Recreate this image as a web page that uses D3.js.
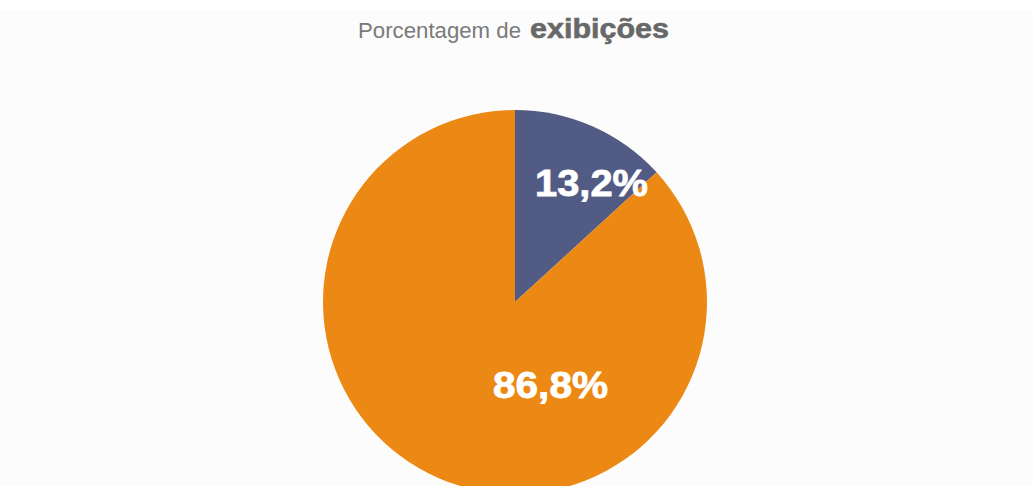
<!DOCTYPE html>
<html><head><meta charset="utf-8">
<script src="https://cdn.jsdelivr.net/npm/d3@7"></script>
<style>
html,body{margin:0;padding:0;background:#fcfcfc;}
svg{display:block;}
</style></head>
<body>
<script>
const categories = ["Outros", "Exibições"];
const values = [13.2, 86.8];
const labels = ["13,2%", "86,8%"];
const colors = ["#525b84", "#ec8914"];

const W = 1033, H = 486;
const svg = d3.select("body").append("svg").attr("width", W).attr("height", H);
svg.append("rect").attr("width", W).attr("height", 10).attr("fill", "#ffffff");

const font = "Liberation Sans, Arial, sans-serif";
svg.append("text").attr("x", 358).attr("y", 38)
  .attr("font-family", font).attr("font-size", 22).attr("fill", "#7a7a7a")
  .attr("textLength", 163).attr("lengthAdjust", "spacingAndGlyphs")
  .text("Porcentagem de");
svg.append("text").attr("x", 530).attr("y", 38)
  .attr("font-family", font).attr("font-size", 27).attr("font-weight", "bold").attr("fill", "#686868")
  .attr("stroke", "#686868").attr("stroke-width", 0.6)
  .attr("textLength", 139).attr("lengthAdjust", "spacingAndGlyphs")
  .text("exibições");

const cx = 515, cy = 302, r = 192;
const g = svg.append("g").attr("transform", `translate(${cx},${cy})`);
const pie = d3.pie().sort(null).value(d => d)(values);
const arc = d3.arc().innerRadius(0).outerRadius(r);
g.selectAll("path").data(pie).join("path")
  .attr("d", arc).attr("fill", (d, i) => colors[i]);

const labelPos = [[20, -106], [-22, 96]];
const labelW = [113, 115];
g.selectAll("text.lbl").data(pie).join("text").attr("class", "lbl")
  .attr("x", (d, i) => labelPos[i][0]).attr("y", (d, i) => labelPos[i][1])
  .attr("font-family", font)
  .attr("font-weight", "bold").attr("font-size", 37).attr("fill", "#ffffff")
  .attr("stroke", "#ffffff").attr("stroke-width", 0.8)
  .attr("textLength", (d, i) => labelW[i]).attr("lengthAdjust", "spacingAndGlyphs")
  .text((d, i) => labels[i]);
</script>
</body></html>
